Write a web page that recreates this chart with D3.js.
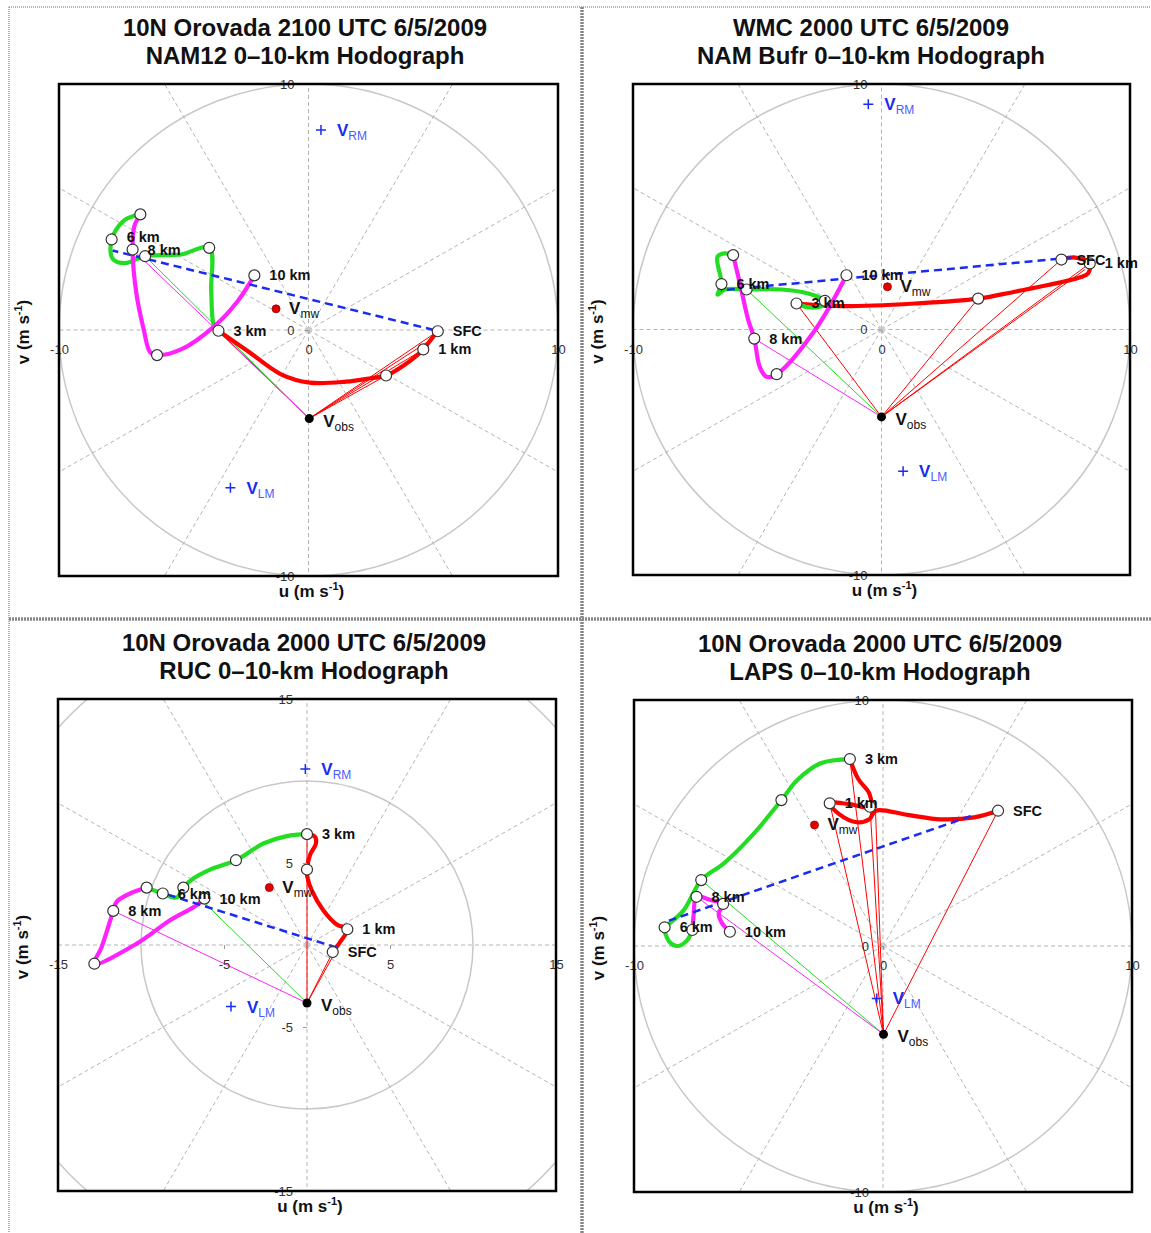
<!DOCTYPE html>
<html lang="en">
<head>
<meta charset="utf-8">
<title>0-10-km Hodographs</title>
<style>
  body { margin: 0; background: white; }
  svg { display: block; font-family: "Liberation Sans", Arial, sans-serif; }
  .ring { fill: none; stroke: #c8c8c8; stroke-width: 1.5; }
  .spoke { stroke: #b4b4b4; stroke-width: 1; stroke-dasharray: 4,3; }
  .marker { fill: white; stroke: #333; stroke-width: 1.2; }
  .km { font-size: 14.5px; font-weight: bold; fill: #111; }
  .title { font-size: 24px; font-weight: bold; fill: #111; text-anchor: middle; }
  .axtitle { font-size: 17px; font-weight: bold; fill: #111; text-anchor: middle; }
</style>
</head>
<body>
<svg width="1151" height="1233"></svg>
<script src="https://d3js.org/d3.v7.min.js"></script>
<script>

// ---------- data (u, v in m/s) ----------
var ticks10 = [-10, 0, 10];
var ticks15 = [-15, -5, 5, 15];

// NAM12, 10N Orovada 2100 UTC
var namTitle = ["10N Orovada 2100 UTC 6/5/2009", "NAM12 0\u201310-km Hodograph"];
var namRed = [[5.18,-0.05],[4.9,-0.4],[4.6,-0.79],[3.9,-1.38],[3.11,-1.85],[2.5,-1.96],[1.5,-2.1],[0.05,-2.14],[-1.1,-1.8],[-2.44,-0.85],[-3.61,-0.03]];
var namGreen = [[-3.61,-0.03],[-3.8,0.22],[-3.9,1.6],[-3.98,3.34],[-5.11,3.07],[-6.55,3.0],[-7.35,2.72],[-7.85,2.9],[-7.89,3.68],[-7.4,4.45],[-6.74,4.7]];
var namMagenta = [[-6.74,4.7],[-6.98,4.22],[-7.05,3.27],[-6.9,1.5],[-6.6,0.0],[-6.35,-0.9],[-6.07,-1.02],[-5.11,-0.79],[-3.78,0.15],[-2.84,1.17],[-2.17,2.22]];
var namMarkers = [[5.18,-0.05],[4.6,-0.79],[3.11,-1.85],[-3.61,-0.03],[-3.98,3.34],[-6.55,3.0],[-7.05,3.27],[-7.89,3.68],[-6.74,4.7],[-6.07,-1.02],[-2.17,2.22]];
var namLabels = [["SFC",5.18,-0.05],["1 km",4.6,-0.79],["3 km",-3.61,-0.03],["6 km",-7.89,3.78],["8 km",-7.05,3.27],["10 km",-2.17,2.22]];
var namThinRed = [[5.18,-0.05],[4.9,-0.4],[4.6,-0.79],[3.11,-1.85],[-3.61,-0.03]];
var namThinGreen = [[-6.55,3.0]];
var namThinMagenta = [[-7.05,3.27]];
var namShear = [[5.02,0.0],[-7.85,3.23]];
var namVobs = [0.03,-3.6], namVmw = [-1.3,0.86], namVrm = [0.5,8.13], namVlm = [-3.13,-6.41];

// NAM Bufr, WMC 2000 UTC
var bufrTitle = ["WMC 2000 UTC 6/5/2009", "NAM Bufr 0\u201310-km Hodograph"];
var bufrRed = [[7.24,2.85],[7.8,2.93],[8.38,2.69],[8.31,2.28],[8.0,2.13],[6.7,1.81],[5.36,1.54],[3.89,1.26],[1.34,1.06],[-1.61,0.95],[-3.42,1.06]];
var bufrGreen = [[-3.42,1.06],[-2.9,0.9],[-2.4,0.97],[-2.28,1.17],[-2.95,1.47],[-4.02,1.63],[-5.43,1.63],[-6.3,1.63],[-6.6,1.42],[-6.44,1.85],[-6.6,2.96],[-6.3,3.1],[-5.97,3.03]];
var bufrMagenta = [[-5.97,3.03],[-5.7,1.88],[-5.36,0.38],[-5.12,-0.37],[-4.9,-1.52],[-4.62,-1.93],[-4.22,-1.82],[-2.68,-0.03],[-1.41,2.21]];
var bufrMarkers = [[7.24,2.85],[8.38,2.69],[3.89,1.26],[-2.28,1.17],[-3.42,1.06],[-1.41,2.21],[-5.97,3.03],[-6.44,1.85],[-5.43,1.63],[-5.12,-0.37],[-4.22,-1.82]];
var bufrLabels = [["SFC",7.24,2.85],["1 km",8.38,2.69],["3 km",-3.42,1.06],["6 km",-6.44,1.85],["8 km",-5.12,-0.37],["10 km",-1.41,2.21]];
var bufrThinRed = [[7.24,2.85],[8.38,2.69],[8.2,2.45],[3.89,1.26],[-3.42,1.06]];
var bufrThinGreen = [[-5.43,1.63]];
var bufrThinMagenta = [[-5.12,-0.37]];
var bufrShear = [[7.64,2.93],[-6.46,1.6]];
var bufrVobs = [0,-3.56], bufrVmw = [0.24,1.74], bufrVrm = [-0.53,9.18], bufrVlm = [0.87,-5.77];

// RUC, 10N Orovada 2000 UTC
var rucTitle = ["10N Orovada 2000 UTC 6/5/2009", "RUC 0\u201310-km Hodograph"];
var rucRed = [[1.55,-0.43],[1.99,0.18],[2.43,0.96],[1.79,1.25],[0.98,2.12],[0.28,3.34],[0.02,4.15],[0,4.6],[0.18,5.48],[0.54,6.19],[0.48,6.6],[0,6.76]];
var rucGreen = [[0,6.76],[-1.22,6.64],[-2.63,6.19],[-4.28,5.17],[-5.84,4.6],[-6.85,4.05],[-7.45,3.5],[-7.85,2.89],[-8.69,3.14],[-9.66,3.5]];
var rucMagenta = [[-9.66,3.5],[-10.66,3.14],[-11.47,2.63],[-11.67,2.08],[-12.37,-0.12],[-12.81,-1.14],[-10.26,0.08],[-8.25,1.51],[-6.65,2.42],[-6.18,2.83]];
var rucMarkers = [[0,6.76],[0,4.6],[2.43,0.96],[1.55,-0.43],[-4.28,5.17],[-7.45,3.5],[-8.69,3.14],[-9.66,3.5],[-6.18,2.83],[-11.67,2.08],[-12.81,-1.14]];
var rucLabels = [["3 km",0,6.76],["1 km",2.43,0.96],["SFC",1.55,-0.43],["6 km",-8.69,3.14],["10 km",-6.18,2.83],["8 km",-11.67,2.08]];
var rucThinRed = [[0,6.76],[1.55,-0.43],[1.8,-0.25]];
var rucThinGreen = [[-6.3,2.7]];
var rucThinMagenta = [[-11.67,2.08]];
var rucShear = [[1.79,-0.15],[-8.55,3.12]];
var rucVobs = [0,-3.54], rucVmw = [-2.27,3.5], rucVrm = [-0.1,10.73], rucVlm = [-4.58,-3.75];

// LAPS, 10N Orovada 2000 UTC
var lapsTitle = ["10N Orovada 2000 UTC 6/5/2009", "LAPS 0\u201310-km Hodograph"];
var lapsRed = [[4.62,5.5],[3.66,5.23],[2.32,5.15],[0.98,5.33],[-0.3,5.5],[-0.55,5.15],[-1.05,5.03],[-1.75,5.35],[-2.14,5.8],[-1.4,5.78],[-0.52,5.66],[-0.55,6.2],[-1.0,6.8],[-1.33,7.6]];
var lapsGreen = [[-1.33,7.6],[-2.5,7.43],[-3.44,6.75],[-4.08,5.93],[-5.18,4.58],[-6.39,3.36],[-7.3,2.68],[-8.0,1.46],[-8.66,0.85],[-8.77,0.76],[-8.6,0.2],[-8.26,0.0],[-7.86,0.24],[-7.66,0.65]];
var lapsMagenta = [[-7.66,0.65],[-7.6,1.3],[-7.49,2.0],[-6.92,1.87],[-6.42,1.71],[-6.6,1.33],[-6.46,0.92],[-6.15,0.58]];
var lapsMarkers = [[-1.33,7.6],[-4.08,5.93],[-2.14,5.8],[-0.52,5.66],[4.62,5.5],[-7.3,2.68],[-7.49,2.0],[-6.42,1.71],[-8.77,0.76],[-7.66,0.65],[-6.15,0.58]];
var lapsLabels = [["3 km",-1.33,7.6],["1 km",-2.14,5.8],["SFC",4.62,5.5],["8 km",-7.49,2.0],["6 km",-8.77,0.76],["10 km",-6.15,0.58]];
var lapsThinRed = [[-1.33,7.6],[-2.14,5.8],[-0.52,5.66],[-0.3,5.5],[4.62,5.5]];
var lapsThinGreen = [[-7.3,2.68]];
var lapsThinMagenta = [[-7.49,2.0]];
var lapsShear = [[3.52,5.28],[-8.6,1.03]];
var lapsVobs = [0.02,-3.59], lapsVmw = [-2.75,4.92], lapsVrm = null, lapsVlm = [-0.25,-2.13];

// ---------- layout ----------
var panels = [
  {title: namTitle, range: 10, xt: ticks10, yt: ticks10, red: namRed, green: namGreen, magenta: namMagenta,
   markers: namMarkers, labels: namLabels, thinRed: namThinRed, thinGreen: namThinGreen, thinMagenta: namThinMagenta,
   shear: namShear, vobs: namVobs, vmw: namVmw, vrm: namVrm, vlm: namVlm, sfcWeight: "normal",
   box: {x0: 59, y0: 84, x1: 558, y1: 576}, tx: 305},
  {title: bufrTitle, range: 10, xt: ticks10, yt: ticks10, red: bufrRed, green: bufrGreen, magenta: bufrMagenta,
   markers: bufrMarkers, labels: bufrLabels, thinRed: bufrThinRed, thinGreen: bufrThinGreen, thinMagenta: bufrThinMagenta,
   shear: bufrShear, vobs: bufrVobs, vmw: bufrVmw, vrm: bufrVrm, vlm: bufrVlm, sfcWeight: "bold",
   box: {x0: 633, y0: 84, x1: 1130, y1: 575}, tx: 871},
  {title: rucTitle, range: 15, xt: ticks15, yt: ticks15, red: rucRed, green: rucGreen, magenta: rucMagenta,
   markers: rucMarkers, labels: rucLabels, thinRed: rucThinRed, thinGreen: rucThinGreen, thinMagenta: rucThinMagenta,
   shear: rucShear, vobs: rucVobs, vmw: rucVmw, vrm: rucVrm, vlm: rucVlm, sfcWeight: "bold",
   box: {x0: 58, y0: 699, x1: 556, y1: 1191}, tx: 304},
  {title: lapsTitle, range: 10, xt: ticks10, yt: ticks10, red: lapsRed, green: lapsGreen, magenta: lapsMagenta,
   markers: lapsMarkers, labels: lapsLabels, thinRed: lapsThinRed, thinGreen: lapsThinGreen, thinMagenta: lapsThinMagenta,
   shear: lapsShear, vobs: lapsVobs, vmw: lapsVmw, vrm: lapsVrm, vlm: lapsVlm, sfcWeight: "normal",
   box: {x0: 634, y0: 700, x1: 1132, y1: 1192}, tx: 880}
];

var RED = "#ff0000", GREEN = "#22dd22", MAGENTA = "#ff22ff", BLUE = "#1a2cf0";

var svg = d3.select("svg");
var defs = svg.append("defs");

// panel frame (dotted separators)
svg.append("line").attr("x1", 9).attr("y1", 7).attr("x2", 1151).attr("y2", 7)
    .attr("stroke", "#999").attr("stroke-width", 1.5).attr("stroke-dasharray", "1,1");
svg.append("line").attr("x1", 9).attr("y1", 7).attr("x2", 9).attr("y2", 1233)
    .attr("stroke", "#999").attr("stroke-width", 1.5).attr("stroke-dasharray", "1,1");
svg.append("line").attr("x1", 582).attr("y1", 7).attr("x2", 582).attr("y2", 1233)
    .attr("stroke", "#888").attr("stroke-width", 3.5).attr("stroke-dasharray", "2,1");
svg.append("line").attr("x1", 9).attr("y1", 619).attr("x2", 1151).attr("y2", 619)
    .attr("stroke", "#888").attr("stroke-width", 3.5).attr("stroke-dasharray", "2,1");

function vLabel(g, px, py, sub, color, subColor) {
    var t = g.append("text").attr("x", px).attr("y", py).attr("fill", color);
    t.append("tspan").attr("font-weight", "bold").attr("font-size", 17).text("V");
    t.append("tspan").attr("font-size", 12).attr("dy", 4).attr("fill", subColor || color).text(sub);
}

function plusMark(g, px, py) {
    g.append("path").attr("d", "M" + (px - 5) + "," + py + "h10M" + px + "," + (py - 5) + "v10")
        .attr("stroke", BLUE).attr("stroke-width", 1.5);
}

panels.forEach(function(p, i) {
    var b = p.box, R = p.range;
    var x = d3.scaleLinear().domain([-R, R]).range([b.x0, b.x1]);
    var y = d3.scaleLinear().domain([-R, R]).range([b.y1, b.y0]);
    var g = svg.append("g");

    defs.append("clipPath").attr("id", "clip" + i).append("rect")
        .attr("x", b.x0).attr("y", b.y0).attr("width", b.x1 - b.x0).attr("height", b.y1 - b.y0);

    var plot = g.append("g").attr("clip-path", "url(#clip" + i + ")");

    // polar grid
    plot.selectAll(".ring").data(d3.range(10, R * 1.5 + 1, 10)).enter()
      .append("ellipse")
        .attr("class", "ring")
        .attr("cx", x(0)).attr("cy", y(0))
        .attr("rx", function(r) { return x(r) - x(0); })
        .attr("ry", function(r) { return y(0) - y(r); });

    plot.selectAll(".spoke").data(d3.range(0, 360, 30)).enter()
      .append("line")
        .attr("class", "spoke")
        .attr("x1", x(0)).attr("y1", y(0))
        .attr("x2", function(a) { return x(R * 1.6 * Math.cos(a * Math.PI / 180)); })
        .attr("y2", function(a) { return y(R * 1.6 * Math.sin(a * Math.PI / 180)); });

    plot.append("circle").attr("cx", x(0)).attr("cy", y(0)).attr("r", 3).attr("fill", "#ccc");

    // axes crossing at the origin
    var xAxis = d3.axisBottom(x).tickValues(p.xt).tickSize(4).tickPadding(11).tickFormat(String);
    var yAxis = d3.axisLeft(y).tickValues(p.yt).tickSize(4).tickPadding(10).tickFormat(String);
    [g.append("g").attr("transform", "translate(0," + y(0) + ")").call(xAxis),
     g.append("g").attr("transform", "translate(" + x(0) + ",0)").call(yAxis)].forEach(function(a) {
        a.select(".domain").remove();
        a.attr("font-family", null).attr("font-size", 13);
        a.selectAll("line").attr("stroke", "#999");
        a.selectAll("text").attr("fill", "#333");
    });

    // thin lines from the observed storm motion
    var thin = [[p.thinRed, RED], [p.thinGreen, GREEN], [p.thinMagenta, MAGENTA]];
    thin.forEach(function(t) {
        plot.selectAll(null).data(t[0]).enter()
          .append("line")
            .attr("x1", x(p.vobs[0])).attr("y1", y(p.vobs[1]))
            .attr("x2", function(d) { return x(d[0]); })
            .attr("y2", function(d) { return y(d[1]); })
            .attr("stroke", t[1]).attr("stroke-width", 1);
    });

    // hodograph
    var line = d3.line()
        .x(function(d) { return x(d[0]); })
        .y(function(d) { return y(d[1]); })
        .curve(d3.curveCatmullRom.alpha(0.5));
    [[p.red, RED], [p.green, GREEN], [p.magenta, MAGENTA]].forEach(function(s) {
        plot.append("path").datum(s[0]).attr("d", line)
            .attr("fill", "none").attr("stroke", s[1]).attr("stroke-width", 4.2)
            .attr("stroke-linejoin", "round").attr("stroke-linecap", "round");
    });

    // shear vector
    plot.append("path").datum(p.shear).attr("d", d3.line()
            .x(function(d) { return x(d[0]); })
            .y(function(d) { return y(d[1]); }))
        .attr("stroke", BLUE).attr("stroke-width", 2.5).attr("stroke-dasharray", "8,5");

    plot.selectAll(".marker").data(p.markers).enter()
      .append("circle")
        .attr("class", "marker")
        .attr("cx", function(d) { return x(d[0]); })
        .attr("cy", function(d) { return y(d[1]); })
        .attr("r", 5.5);

    g.selectAll(".km").data(p.labels).enter()
      .append("text")
        .attr("class", "km")
        .attr("x", function(d) { return x(d[1]) + 15; })
        .attr("y", function(d) { return y(d[2]) + 5; })
        .attr("font-weight", function(d) { return d[0] === "SFC" ? p.sfcWeight : "bold"; })
        .text(function(d) { return d[0]; });

    // storm motions
    g.append("circle").attr("cx", x(p.vobs[0])).attr("cy", y(p.vobs[1])).attr("r", 4.5).attr("fill", "black");
    vLabel(g, x(p.vobs[0]) + 14, y(p.vobs[1]) + 8, "obs", "#111");
    g.append("circle").attr("cx", x(p.vmw[0])).attr("cy", y(p.vmw[1])).attr("r", 4)
        .attr("fill", "#e00000").attr("stroke", "#900").attr("stroke-width", 0.8);
    vLabel(g, x(p.vmw[0]) + 13, y(p.vmw[1]) + 5, "mw", "#111");
    if (p.vrm) {
        plusMark(g, x(p.vrm[0]), y(p.vrm[1]));
        vLabel(g, x(p.vrm[0]) + 16, y(p.vrm[1]) + 6, "RM", BLUE, "#4a5cff");
    }
    if (p.vlm) {
        plusMark(g, x(p.vlm[0]), y(p.vlm[1]));
        vLabel(g, x(p.vlm[0]) + 16, y(p.vlm[1]) + 6, "LM", BLUE, "#4a5cff");
    }

    g.append("rect")
        .attr("x", b.x0).attr("y", b.y0).attr("width", b.x1 - b.x0).attr("height", b.y1 - b.y0)
        .attr("fill", "none").attr("stroke", "black").attr("stroke-width", 2.5);

    // titles
    g.append("text").attr("class", "title").attr("x", p.tx).attr("y", b.y0 - 48.5).text(p.title[0]);
    g.append("text").attr("class", "title").attr("x", p.tx).attr("y", b.y0 - 20.5).text(p.title[1]);

    var ut = g.append("text").attr("class", "axtitle").attr("x", x(0) + 3).attr("y", b.y1 + 21);
    ut.append("tspan").text("u (m s");
    ut.append("tspan").attr("font-size", 11).attr("dy", -7).text("-1");
    ut.append("tspan").attr("dy", 7).text(")");

    var vt = g.append("text").attr("class", "axtitle")
        .attr("transform", "translate(" + (b.x0 - 30) + "," + (y(0) + 2) + ")rotate(-90)");
    vt.append("tspan").text("v (m s");
    vt.append("tspan").attr("font-size", 11).attr("dy", -7).text("-1");
    vt.append("tspan").attr("dy", 7).text(")");
});

</script>
</body>
</html>
